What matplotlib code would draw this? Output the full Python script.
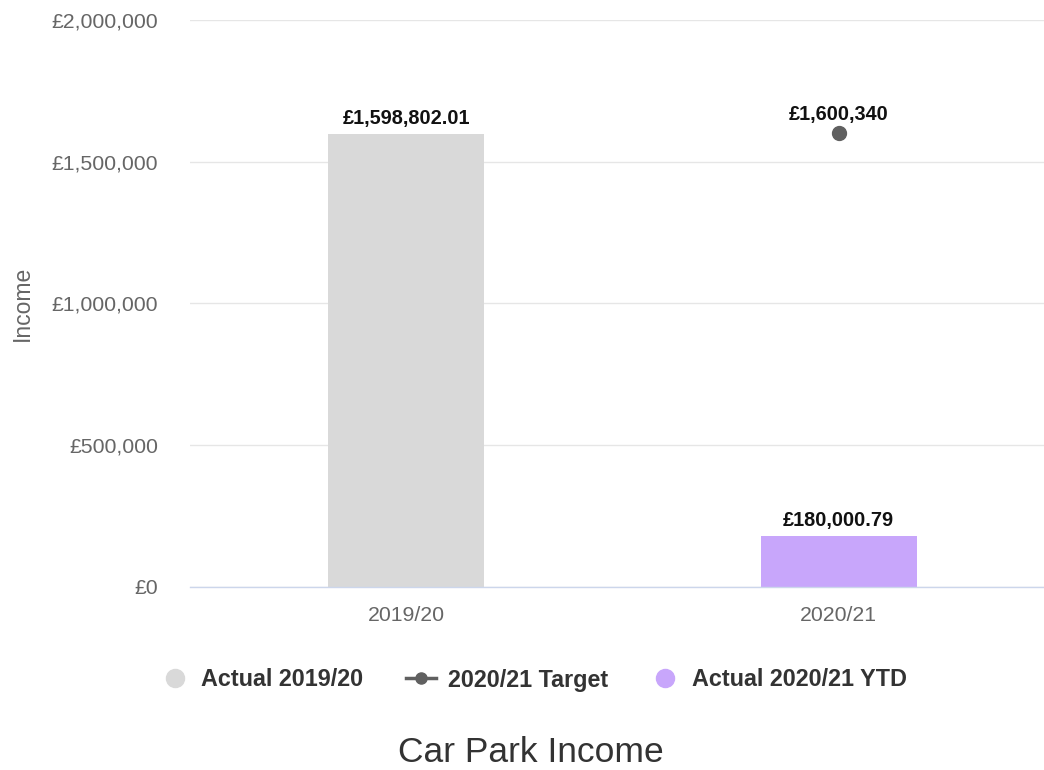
import matplotlib
matplotlib.use("Agg")
import matplotlib.pyplot as plt
from matplotlib.lines import Line2D
from matplotlib.ticker import FuncFormatter

plt.rcParams['font.family'] = ['Liberation Sans', 'DejaVu Sans']

# Data
categories = ["2019/20", "2020/21"]
actual_2019 = [1598802.01, None]
target_2020 = [None, 1600340]
actual_2020_ytd = [None, 180000.79]
y_ticks = [0, 500000, 1000000, 1500000, 2000000]

grey = "#d9d9d9"
purple = "#c8a6fb"
dark = "#606060"
text_dark = "#333333"
axis_text = "#666666"

fig = plt.figure(figsize=(10.44, 7.70), dpi=100)
ax = fig.add_axes([190 / 1044, 0.2377, 865 / 1044, 0.7363])

x = list(range(len(categories)))
bar_w = 0.36
label_size = 14.3

for i, v in enumerate(actual_2019):
    if v is not None:
        ax.bar(i, v, width=bar_w, color=grey, zorder=2)
        ax.annotate(f"£{v:,.2f}", (i, v), xytext=(0, 4), textcoords="offset points",
                    ha="center", va="bottom", fontsize=label_size, fontweight="bold", color="#111111")

for i, v in enumerate(actual_2020_ytd):
    if v is not None:
        ax.bar(i, v, width=bar_w, color=purple, zorder=2)
        ax.annotate(f"£{v:,.2f}", (i, v), xytext=(0, 4), textcoords="offset points",
                    ha="center", va="bottom", fontsize=label_size, fontweight="bold", color="#111111")

for i, v in enumerate(target_2020):
    if v is not None:
        ax.plot(i, v, "o", color=dark, markersize=10, zorder=3)
        ax.annotate(f"£{v:,.0f}", (i, v), xytext=(0, 7), textcoords="offset points",
                    ha="center", va="bottom", fontsize=label_size, fontweight="bold", color="#111111")

ax.set_xlim(-0.5, 1.5)
ax.set_ylim(0, 2000000)
ax.set_yticks(y_ticks)
ax.yaxis.set_major_formatter(FuncFormatter(lambda v, p: f"£{v:,.0f}"))
ax.set_xticks(x)
ax.set_xticklabels(categories)
ax.tick_params(axis="both", length=0, labelsize=15.3, labelcolor=axis_text)
ax.tick_params(axis="y", pad=23)
ax.tick_params(axis="x", pad=14)

ax.grid(axis="y", color="#e6e6e6", linewidth=1, zorder=0)
ax.set_axisbelow(True)
for s in ["top", "right", "left"]:
    ax.spines[s].set_visible(False)
ax.spines["bottom"].set_color("#ccd6eb")
ax.spines["bottom"].set_linewidth(1)

fig.text(22 / 1044, 1 - 303 / 770, "Income", rotation=90, ha="center", va="center",
         fontsize=16.5, color=axis_text)

handles = [
    Line2D([], [], marker="o", linestyle="none", markersize=13, color=grey),
    Line2D([], [], marker="o", linestyle="-", linewidth=2.5, markersize=8, color=dark),
    Line2D([], [], marker="o", linestyle="none", markersize=13, color=purple),
]
labels = ["Actual 2019/20", "2020/21 Target", "Actual 2020/21 YTD"]
fig.legend(handles, labels, loc="center", bbox_to_anchor=(533 / 1044, 1 - 680 / 770), ncol=3,
           frameon=False, prop={"weight": "bold", "size": 16.8}, labelcolor=text_dark,
           handlelength=1.3, handletextpad=0.5, columnspacing=1.8)

fig.text(531 / 1044, 1 - 752 / 770, "Car Park Income", ha="center", va="center",
         fontsize=25.5, color=text_dark)

fig.savefig("out.png", dpi=100)
